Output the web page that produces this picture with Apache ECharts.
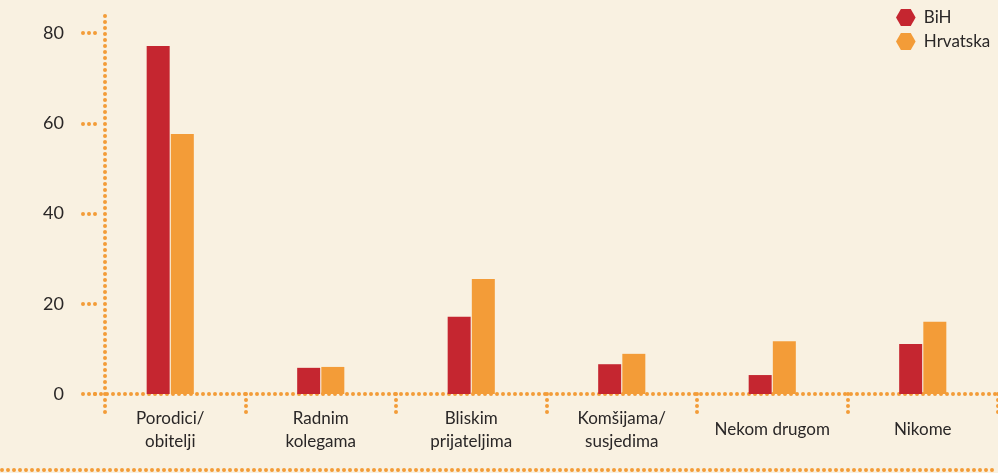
<!DOCTYPE html>
<html>
<head>
<meta charset="utf-8">
<script src="https://cdn.jsdelivr.net/npm/echarts@6/dist/echarts.min.js"></script>
<style>
  html, body { margin: 0; padding: 0; background: #f9f1e1; }
  #chart { width: 998px; height: 473px; }
</style>
</head>
<body>
<div id="chart"></div>
<script>
// data
var categories = ['Porodici/\nobitelji', 'Radnim\nkolegama', 'Bliskim\nprijateljima', 'Komšijama/\nsusjedima', 'Nekom drugom', 'Nikome'];
var bihData = [77.1, 5.8, 17.1, 6.6, 4.2, 11.1];
var hrvData = [57.6, 6.0, 25.5, 8.9, 11.7, 16.0];
var yTicks = [0, 20, 40, 60, 80];

var orange = '#f39c38';
var red = '#c52630';
var textColor = '#2a2727';
var font = 'Lato';
var hexagon = 'path://M5,0 L15,0 L20,8.66 L15,17.32 L5,17.32 L0,8.66 Z';

// dotted line style (round dots)
var dots = {
  color: orange,
  width: 4,
  type: [0, 6],
  cap: 'round'
};

var chart = echarts.init(document.getElementById('chart'));

chart.setOption({
  backgroundColor: '#f9f1e1',
  textStyle: { fontFamily: font },
  legend: {
    orient: 'vertical',
    left: 896,
    top: 9,
    padding: 0,
    itemWidth: 20,
    itemHeight: 17,
    itemGap: 7,
    selectedMode: false,
    textStyle: { color: textColor, fontSize: 17, fontFamily: font, padding: [0, 0, 0, 3] },
    data: [
      { name: 'BiH', icon: hexagon },
      { name: 'Hrvatska', icon: hexagon }
    ]
  },
  grid: {
    left: 95,
    right: 0,
    top: 33,
    bottom: 79
  },
  xAxis: {
    type: 'category',
    data: categories,
    axisLine: { show: true, lineStyle: dots },
    axisTick: {
      show: true,
      length: 19,
      alignWithLabel: false,
      interval: function (index) { return index !== 0; },
      lineStyle: dots
    },
    axisLabel: {
      color: textColor,
      fontSize: 17,
      lineHeight: 23,
      fontFamily: font,
      verticalAlign: 'middle',
      margin: 36,
      interval: 0
    }
  },
  yAxis: {
    type: 'value',
    min: yTicks[0],
    max: yTicks[yTicks.length - 1],
    interval: 20,
    splitLine: { show: false },
    axisLine: { show: false },
    axisTick: { show: true, length: 15, lineStyle: dots },
    axisLabel: {
      color: textColor,
      fontSize: 18,
      fontFamily: font,
      margin: 31
    }
  },
  graphic: [
    {
      type: 'line',
      shape: { x1: 105, y1: 16, x2: 105, y2: 413 },
      style: { stroke: orange, lineWidth: 4, lineDash: [0, 6], lineCap: 'round' }
    },
    {
      type: 'line',
      shape: { x1: 2, y1: 470, x2: 998, y2: 470 },
      style: { stroke: orange, lineWidth: 4, lineDash: [0, 6], lineCap: 'round' }
    }
  ],
  series: [
    {
      name: 'BiH',
      type: 'bar',
      data: bihData,
      barWidth: 23,
      barGap: '5%',
      itemStyle: { color: red }
    },
    {
      name: 'Hrvatska',
      type: 'bar',
      data: hrvData,
      barWidth: 23,
      itemStyle: { color: orange }
    }
  ]
});
</script>
</body>
</html>
